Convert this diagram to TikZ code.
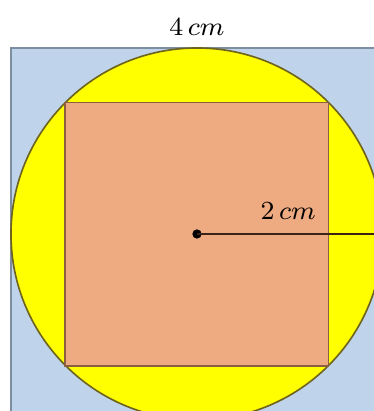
\documentclass[tikz,border=0pt]{standalone}
\begin{document}
\begin{tikzpicture}[
  outerbox/.style={draw=outerc, line width=0.9pt, fill=bluec},
  circ/.style={draw=circc, line width=0.5pt, fill=yellowc},
  innerbox/.style={draw=innerc, line width=0.6pt, fill=salmonc},
  lab/.style={font=\fontsize{8.4}{10}\selectfont, inner sep=0pt}
]
\definecolor{bluec}{RGB}{191,212,234}
\definecolor{outerc}{RGB}{125,142,160}
\definecolor{circc}{RGB}{110,100,30}
\definecolor{innerc}{RGB}{140,95,65}
\definecolor{salmonc}{RGB}{238,170,128}
\definecolor{yellowc}{RGB}{255,255,0}
\definecolor{radc}{RGB}{60,35,25}
\useasboundingbox (-2.118,-1.903) rectangle (1.903,2.516);
\begin{scope}
\clip (-2.118,-1.903) rectangle (1.903,2.516);
\node[outerbox, minimum size=4cm, inner sep=0pt] (outer) at (0,0) {};
\node[circ, circle, minimum size=4cm, inner sep=0pt] (circ) at (0,0) {};
\node[innerbox, minimum size=2.828cm, inner sep=0pt] (inner) at (0,0) {};
\node[circle, fill=black, minimum size=0.1cm, inner sep=0pt] (c) at (0,0) {};
\coordinate (r) at (circ.east);
\draw[line width=0.45pt, radc] (c.center) -- (r);
\end{scope}
\node[lab] (top) at (0,2.226) {$4\,cm$};
\node[lab] (rad) at (0.98,0.25) {$2\,cm$};
\end{tikzpicture}
\end{document}
